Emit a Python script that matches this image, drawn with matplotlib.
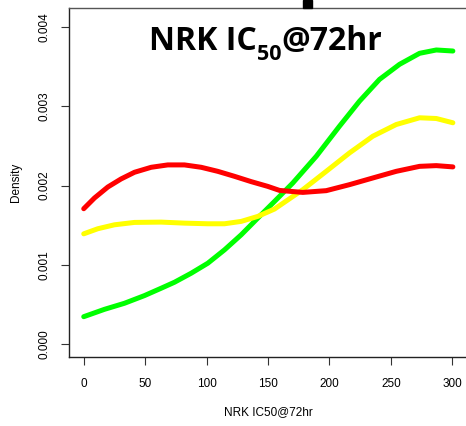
import numpy as np
import matplotlib.pyplot as plt
from matplotlib.patches import Rectangle

# density curves (x = NRK IC50@72hr)
green_x = [0, 16.9, 33.1, 49.4, 63, 73.9, 87.5, 101, 114.6, 128.2, 141.7, 155.3,
           170.2, 189.3, 208.2, 224.5, 240.8, 257.1, 273.4, 287, 300.5]
green_y = [0.000346, 0.000439, 0.000515, 0.000612, 0.000705, 0.000781, 0.000895,
           0.001021, 0.00119, 0.00138, 0.001591, 0.001801, 0.002034, 0.002371,
           0.002751, 0.003067, 0.003342, 0.003532, 0.003671, 0.003713, 0.0037]

yellow_x = [0, 11.4, 25, 41.3, 63, 82, 101, 114.6, 128.2, 141.7, 155.3, 178.3,
            197.4, 216.4, 235.3, 254.4, 273.4, 287, 300.5]
yellow_y = [0.001392, 0.001456, 0.001506, 0.001536, 0.00154, 0.001527, 0.001519,
            0.001519, 0.001549, 0.001612, 0.001705, 0.001949, 0.002181, 0.002414,
            0.002624, 0.002772, 0.002857, 0.002848, 0.002794]

red_x = [0, 8.7, 19.6, 30.4, 41.3, 54.9, 68.4, 82, 95.6, 109.1, 122.7, 136.3,
         149.8, 159.4, 178.3, 197.4, 216.4, 235.3, 254.4, 273.4, 287, 300.5]
red_y = [0.001709, 0.001844, 0.001983, 0.002085, 0.002169, 0.002232, 0.002262,
         0.002262, 0.002232, 0.002181, 0.002118, 0.002051, 0.001991, 0.00194,
         0.001915, 0.001937, 0.002013, 0.002097, 0.002181, 0.002244, 0.002253, 0.002237]

x_ticks = [0, 50, 100, 150, 200, 250, 300]
y_ticks = [0.000, 0.001, 0.002, 0.003, 0.004]

plt.rcParams['font.family'] = ['Liberation Sans', 'DejaVu Sans']

fig = plt.figure(figsize=(4.66, 4.26), dpi=100)
W, H = 466, 426
# axes box in pixels: left 69, right 467, top 8, bottom 357
ax = fig.add_axes([69 / W, (H - 357) / H, (467 - 69) / W, (357 - 8) / H])

for xs, ys, c in [(green_x, green_y, '#00ff00'), (yellow_x, yellow_y, '#ffff00'),
                  (red_x, red_y, '#ff0000')]:
    ax.plot(xs, ys, color=c, lw=3.6, solid_capstyle='round', solid_joinstyle='round')

ax.set_xlim(-12, 312)
ax.set_ylim(-0.000163, 0.004243)

ax.set_xticks(x_ticks)
ax.set_xticklabels([str(v) for v in x_ticks], fontsize=8.5)
ax.set_yticks(y_ticks)
ax.set_yticklabels(['%.3f' % v for v in y_ticks], fontsize=8.5, rotation=90, va='center')
ax.tick_params(length=6, width=0.8, color='#333333')
ax.tick_params(axis='x', pad=9)
ax.tick_params(axis='y', pad=7)

for s in ax.spines.values():
    s.set_color('#555555')
    s.set_linewidth(1)
ax.spines['left'].set_color('#222222')
ax.spines['bottom'].set_color('#222222')

ax.set_xlabel('NRK IC50@72hr', fontsize=8.5, labelpad=12)
ax.set_ylabel('Density', fontsize=8.5, labelpad=12)

# title built from pieces so the subscript drops like in the original
r = fig.canvas.get_renderer()
tkw = dict(fontweight='bold', family=['Open Sans', 'DejaVu Sans'],
           va='baseline', ha='left')
x0, base = 149, H - 50
pieces = [('NRK IC', 23, 0), ('50', 15.5, -10), ('@72hr', 23, 0)]
for txt, fs, dy in pieces:
    t = fig.text(x0 / W, (base + dy) / H, txt, fontsize=fs, **tkw)
    x0 += t.get_window_extent(r).width

fig.patches.append(Rectangle((303 / W, 1 - 8 / H), 9 / W, 8 / H, transform=fig.transFigure,
                             color='black', zorder=5))

fig.savefig('out.png', dpi=100)
